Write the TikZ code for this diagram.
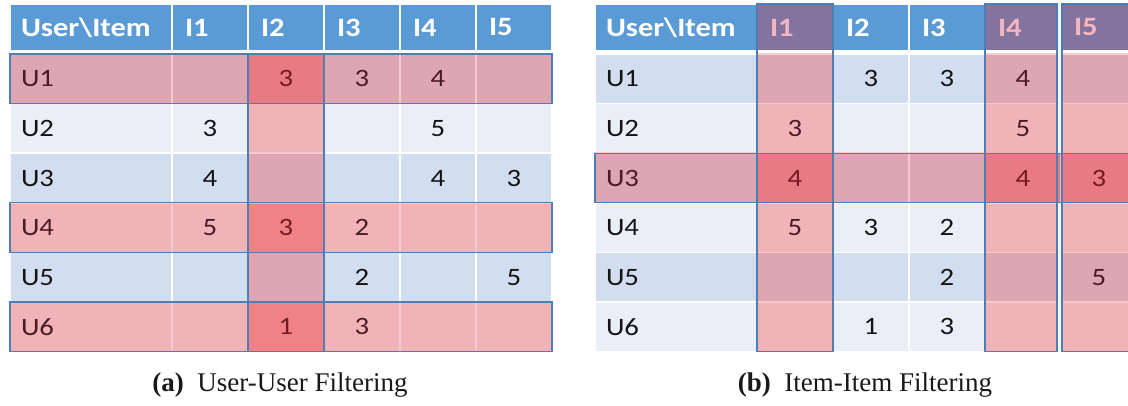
\documentclass[tikz,border=0pt]{standalone}
\usepackage{fontspec}
\setmainfont{Carlito}[FakeStretch=1.15]
\newfontfamily\capfont{Liberation Serif}
\definecolor{headblue}{HTML}{5B9BD5}
\definecolor{headhot}{HTML}{85739F}
\definecolor{headink}{HTML}{F4B6C0}
\definecolor{lvl0a}{HTML}{D2DEEF}
\definecolor{lvl0b}{HTML}{E9EEF7}
\definecolor{lvl1a}{HTML}{DDA6B1}
\definecolor{lvl1b}{HTML}{F0B3B8}
\definecolor{lvl2a}{HTML}{E87A84}
\definecolor{lvl2b}{HTML}{F08287}
\definecolor{ink0}{HTML}{141414}
\definecolor{ink1}{HTML}{4B1B26}
\definecolor{ink2}{HTML}{761A22}
\definecolor{sep0}{HTML}{FFFFFF}
\definecolor{sep1}{HTML}{F6CBD0}
\definecolor{sep2}{HTML}{F3AEB4}
\definecolor{boxline}{HTML}{4F7EB5}

\begin{document}
\begin{tikzpicture}[x=1pt, y=-1pt]
\tikzset{cell/.style={rectangle, inner sep=0pt, outer sep=0pt, minimum width=76pt, minimum height=49.6pt, line width=1.6pt, font=\fontsize{25}{25}\selectfont},
  wide/.style={minimum width=162pt, text width=140pt, inner xsep=11pt, align=left},
  headcell/.style={minimum height=47pt, draw=white, font=\fontsize{26.5}{26.5}\selectfont\bfseries},
  headitem/.style={text width=50pt, inner xsep=13pt, align=left},
  hlbox/.style={draw=boxline, line width=1.3pt},
  gap/.style={draw=white!96!blue, line width=4pt},
  caption/.style={font=\fontsize{27}{27}\selectfont\capfont, text=black!90}}
\useasboundingbox (0,0) rectangle (1128,406);
\clip (0,0) rectangle (1128,406);
% both tables, same ratings, different highlights
\foreach \tb/\xo/\colhl/\rowhl/\headhl in {a/10/{0,1,0,0,0}/{1,0,0,1,0,1}/0, b/595/{1,0,0,1,1}/{0,0,1,0,0,0}/1} {
  \node[cell, headcell, wide, fill=headblue, text=white] (\tb-0-0) at (\xo+81, 27.5) {User\textbackslash Item};
  \foreach \col in {1,...,5} {
    \pgfmathtruncatemacro\cf{{\colhl}[\col-1]}
    \pgfmathtruncatemacro\cf{\cf*\headhl}
    \ifnum\cf=1 \def\hf{headhot}\def\hi{headink}\else\def\hf{headblue}\def\hi{white}\fi
    \node[cell, headcell, headitem, fill=\hf, text=\hi] (\tb-0-\col) at (\xo+124+76*\col, 27.5) {I\col};
  }
  \foreach \row/\uname/\vals in {1/U1/{{},3,3,4,{}}, 2/U2/{3,{},{},5,{}}, 3/U3/{4,{},{},4,3}, 4/U4/{5,3,2,{},{}}, 5/U5/{{},{},2,{},5}, 6/U6/{{},1,3,{},{}}} {
    \pgfmathtruncatemacro\rf{{\rowhl}[\row-1]}
    \ifodd\row\relax \def\pr{a}\else\def\pr{b}\fi
    \edef\fc{lvl\rf\pr}\edef\dc{sep\rf}\edef\ic{ink\rf}
    \node[cell, wide, fill=\fc, draw=\dc, text=\ic] (\tb-\row-0) at (\xo+81, 29.2+49.6*\row) {\uname};
    \foreach \v [count=\col] in \vals {
      \pgfmathtruncatemacro\cf{{\colhl}[\col-1]}
      \pgfmathtruncatemacro\lv{\rf+\cf}
      \edef\fc{lvl\lv\pr}\edef\dc{sep\lv}\edef\ic{ink\lv}
      \node[cell, fill=\fc, draw=\dc, text=\ic] (\tb-\row-\col) at (\xo+124+76*\col, 29.2+49.6*\row) {\v};
    }
  }
}
% white strip between the I4 and I5 boxes
\draw[gap] ([xshift=-1.5pt]b-0-5.north west) -- ([xshift=-1.5pt]b-2-5.south west);
\draw[gap] ([xshift=-1.5pt]b-4-5.north west) -- ([xshift=-1.5pt]b-6-5.south west);
% outlines of the compared rows and columns
\draw[hlbox] (a-1-0.north west) rectangle (a-1-5.south east);
\draw[hlbox] (a-4-0.north west) rectangle (a-4-5.south east);
\draw[hlbox] (a-6-0.north west) rectangle (a-6-5.south east);
\draw[hlbox] (a-1-2.north west) rectangle (a-6-2.south east);
\draw[hlbox] (b-3-0.north west) rectangle (b-3-5.south east);
\draw[hlbox] (b-0-1.north west) rectangle (b-6-1.south east);
\draw[hlbox] (b-0-4.north west) rectangle ([xshift=-4pt]b-6-4.south east);
\draw[hlbox] ([xshift=1pt]b-0-5.north west) rectangle (b-6-5.south east);
\node[caption] (capa) at (280, 385) {\textbf{(a)}\enspace User-User Filtering};
\node[caption] (capb) at (865, 385) {\textbf{(b)}\enspace Item-Item Filtering};
\end{tikzpicture}
\end{document}
